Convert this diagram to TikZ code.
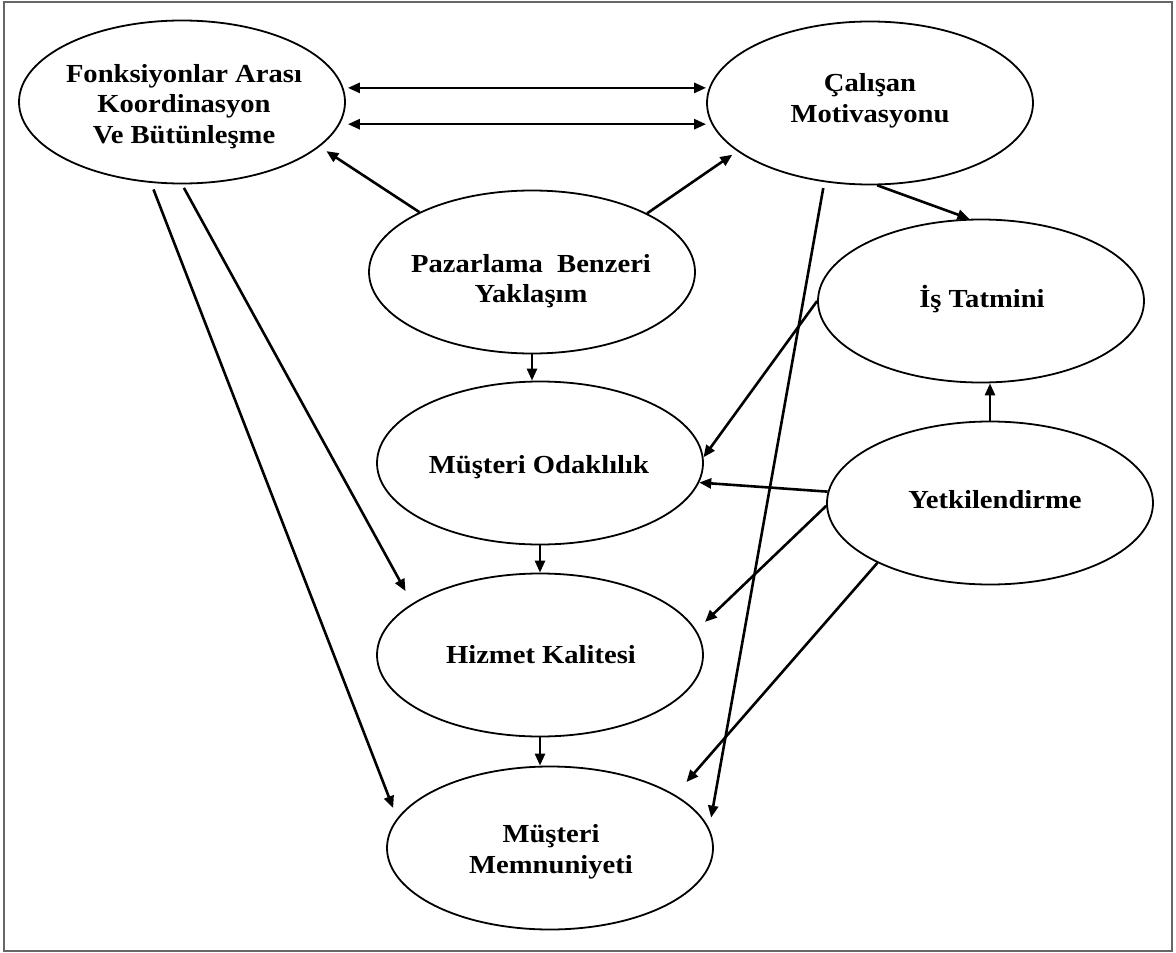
\documentclass[tikz,border=0pt]{standalone}
\usepackage{fontspec}
\setmainfont{Liberation Serif}[FakeStretch=1.1]
\usetikzlibrary{shapes.geometric,arrows.meta}
\begin{document}
\begin{tikzpicture}[x=1pt,y=-1pt,
  conc/.style={draw, ellipse, line width=1.8pt, minimum width=326pt, minimum height=163pt, inner sep=0pt},
  lbl/.style={anchor=base, inner sep=0pt, font=\fontsize{26}{30}\selectfont\bfseries},
  arr/.style={line width=2.6pt, -{Triangle[length=12pt,width=10pt]}},
  darr/.style={line width=2.6pt, {Triangle[length=12pt,width=10pt]}-{Triangle[length=12pt,width=10pt]}}]
\useasboundingbox (0,0) rectangle (1176,953);
\draw[line width=1.5pt, black!60] (4,2) rectangle (1172,951);

\node[conc] (fk) at (182,102) {};
\node[conc] (cm) at (870,103) {};
\node[conc] (pz) at (532,272) {};
\node[conc] (it) at (981,301) {};
\node[conc] (mo) at (540,463) {};
\node[conc] (yt) at (990,503) {};
\node[conc] (hk) at (540,655) {};
\node[conc] (mm) at (550,848) {};

\node[lbl] (fk1) at (184,82) {Fonksiyonlar Arası};
\node[lbl] (fk2) at (184,112) {Koordinasyon};
\node[lbl] (fk3) at (184,143) {Ve Bütünleşme};
\node[lbl] (cm1) at (870,91) {Çalışan};
\node[lbl] (cm2) at (870,122) {Motivasyonu};
\node[lbl] (pz1) at (531,272) {Pazarlama\ \ Benzeri};
\node[lbl] (pz2) at (531,302) {Yaklaşım};
\node[lbl] (it1) at (982,307) {İş Tatmini};
\node[lbl] (mo1) at (539,473) {Müşteri Odaklılık};
\node[lbl] (yt1) at (995,508) {Yetkilendirme};
\node[lbl] (hk1) at (541,663) {Hizmet Kalitesi};
\node[lbl] (mm1) at (551,842) {Müşteri};
\node[lbl] (mm2) at (551,873) {Memnuniyeti};

\draw[darr] ([xshift=2pt]fk.5.8 -| fk.east) -- (fk.5.8 -| cm.west);
\draw[darr] ([xshift=2pt]fk.-8.5 -| fk.east) -- (fk.-8.5 -| cm.west);
\draw[arr, shorten >=8pt] (pz.152.8) -- (fk.-18.9);
\draw[arr, shorten >=6pt] (pz.27.2) -- (cm.-160.7);
\draw[arr] (cm.-85.1) -- (it.98.9);
\draw[arr, shorten <=6pt, shorten >=11pt] (cm.-120.8) -- (mm.7.3);
\draw[arr] (it.180) -- (mo.2);
\draw[arr] (pz.south) -- (pz.south |- mo.north);
\draw[arr] (yt.176) -- (mo.-7.3);
\draw[arr, shorten >=12pt] (yt.-179) -- (hk.9.85);
\draw[arr, shorten >=17pt] (yt.-152.4) -- (mm.23.3);
\draw[arr] (yt.north) -- (yt.north |- it.south);
\draw[arr] (mo.south) -- (mo.south |- hk.north);
\draw[arr] (hk.south) -- (hk.south |- mm.north);
\draw[arr, shorten <=4pt, shorten >=14pt] (fk.-90) -- (hk.158.4);
\draw[arr, shorten <=7pt, shorten >=11pt] (fk.-111) -- (mm.169.9);
\end{tikzpicture}
\end{document}
